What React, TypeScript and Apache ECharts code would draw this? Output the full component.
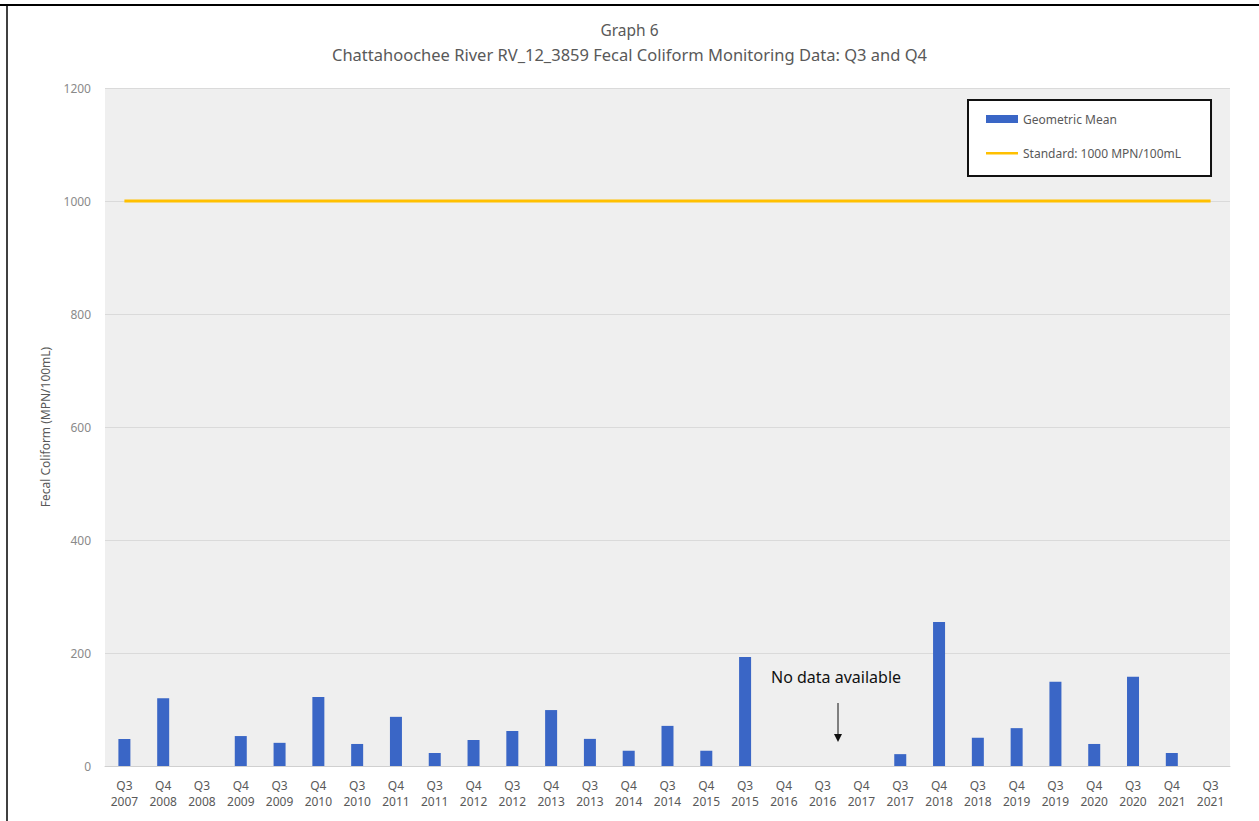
import React, { useEffect, useRef } from "react";
import * as echarts from "echarts";

const categories = [
  "Q3\n2007", "Q4\n2008", "Q3\n2008", "Q4\n2009", "Q3\n2009", "Q4\n2010", "Q3\n2010", "Q4\n2011",
  "Q3\n2011", "Q4\n2012", "Q3\n2012", "Q4\n2013", "Q3\n2013", "Q4\n2014", "Q3\n2014", "Q4\n2015",
  "Q3\n2015", "Q4\n2016", "Q3\n2016", "Q4\n2017", "Q3\n2017", "Q4\n2018", "Q3\n2018", "Q4\n2019",
  "Q3\n2019", "Q4\n2020", "Q3\n2020", "Q4\n2021", "Q3\n2021",
];

const geometricMean: (number | null)[] = [
  48, 120, null, 53, 41, 122, 39, 87,
  23, 46, 62, 99, 48, 27, 71, 27,
  193, null, null, null, 21, 255, 50, 67,
  149, 39, 158, 23, null,
];

const standardValue = 1000;
const standard = categories.map(() => standardValue);

const yTicks = [0, 200, 400, 600, 800, 1000, 1200];

const FONT = "'Noto Sans', sans-serif";

export default function App() {
  const ref = useRef<HTMLDivElement>(null);
  useEffect(() => {
    if (!ref.current) return;
    const chart = echarts.init(ref.current, undefined, { renderer: "svg" });
    chart.setOption({
      animation: false,
      backgroundColor: "#ffffff",
      textStyle: { fontFamily: FONT },
      title: {
        text: "Graph 6\n{s|Chattahoochee River RV_12_3859 Fecal Coliform Monitoring Data: Q3 and Q4}",
        left: "center",
        top: 12,
        textStyle: {
          fontSize: 15.5,
          fontWeight: "normal",
          color: "#595959",
          lineHeight: 25,
          fontFamily: FONT,
          rich: { s: { fontSize: 16.5, color: "#595959", lineHeight: 25, fontFamily: FONT } },
        },
      },
      legend: {
        orient: "vertical",
        left: 968,
        top: 100,
        padding: [13, 30, 17, 18],
        itemGap: 22,
        itemWidth: 32,
        itemHeight: 8,
        backgroundColor: "#ffffff",
        borderColor: "#111111",
        borderWidth: 2,
        textStyle: { fontSize: 12, color: "#595959", fontFamily: FONT },
        data: [
          { name: "Geometric Mean", icon: "rect" },
          { name: "Standard: 1000 MPN/100mL", icon: "path://M0,3h32v2.5h-32z M0,0h0.01v8h-0.01z" },
        ],
      },
      grid: {
        left: 105,
        right: 29,
        top: 88,
        bottom: 55,
        show: true,
        backgroundColor: "#efefef",
        borderWidth: 0,
      },
      xAxis: {
        type: "category",
        data: categories,
        axisLine: { show: true, lineStyle: { color: "#d0d0d0" } },
        axisTick: { show: false },
        axisLabel: { fontSize: 12, color: "#595959", lineHeight: 16, margin: 11, interval: 0, fontFamily: FONT },
      },
      yAxis: {
        type: "value",
        min: yTicks[0],
        max: yTicks[yTicks.length - 1],
        interval: 200,
        name: "Fecal Coliform (MPN/100mL)",
        nameLocation: "middle",
        nameGap: 54,
        nameTextStyle: { fontSize: 12, color: "#595959", fontFamily: FONT },
        axisLine: { show: false },
        axisTick: { show: false },
        axisLabel: { fontSize: 12, color: "#8a8a8a", margin: 14, fontFamily: FONT, formatter: (v: number) => String(v) },
        splitLine: { lineStyle: { color: "#dadada", width: 1 } },
      },
      series: [
        {
          name: "Geometric Mean",
          type: "bar",
          data: geometricMean,
          barWidth: 12,
          itemStyle: { color: "#3a66c6" },
        },
        {
          name: "Standard: 1000 MPN/100mL",
          type: "line",
          data: standard,
          symbol: "none",
          lineStyle: { color: "#ffc000", width: 3 },
          itemStyle: { color: "#ffc000" },
        },
      ],
      graphic: [
        { type: "line", shape: { x1: 0, y1: 5, x2: 1259, y2: 5 }, style: { stroke: "#000", lineWidth: 2 } },
        { type: "line", shape: { x1: 7, y1: 5, x2: 7, y2: 821 }, style: { stroke: "#000", lineWidth: 1.5 } },
        { type: "text", left: 771, top: 669, style: { text: "No data available", font: `16px ${FONT}`, fill: "#111111" } },
        { type: "line", shape: { x1: 838, y1: 703, x2: 838, y2: 736 }, style: { stroke: "#111", lineWidth: 1 } },
        { type: "polygon", shape: { points: [[834, 734], [842, 734], [838, 742]] }, style: { fill: "#111" } },
      ],
    });
    return () => chart.dispose();
  }, []);
  return <div ref={ref} style={{ width: 1259, height: 821, position: "absolute", left: 0, top: 0 }} />;
}
